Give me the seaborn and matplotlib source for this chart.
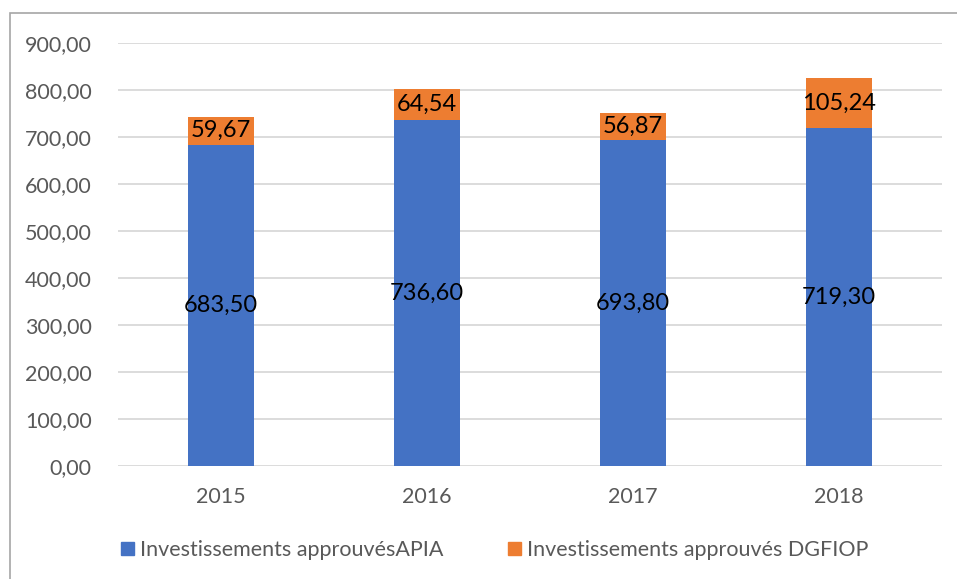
import matplotlib.pyplot as plt
import seaborn as sns
import pandas as pd
from matplotlib.patches import Patch, Rectangle

# Data
years = ['2015', '2016', '2017', '2018']
apia = [683.50, 736.60, 693.80, 719.30]
dgfiop = [59.67, 64.54, 56.87, 105.24]
yticks = [0, 100, 200, 300, 400, 500, 600, 700, 800, 900]

blue = '#4472C4'
orange = '#ED7D31'
grey = '#595959'

df = pd.DataFrame({'year': years, 'apia': apia, 'dgfiop': dgfiop})
df['total'] = df['apia'] + df['dgfiop']

sns.set_theme(style='white')
plt.rcParams['font.family'] = ['Lato', 'DejaVu Sans']

fig = plt.figure(figsize=(9.57, 5.79), dpi=100)
ax = fig.add_axes([0.1233, 0.1952, 0.861, 0.7305])

# stacked bars: total in orange, APIA over it in blue
sns.barplot(data=df, x='year', y='total', color=orange, width=0.32,
            saturation=1, linewidth=0, ax=ax, zorder=3)
sns.barplot(data=df, x='year', y='apia', color=blue, width=0.32,
            saturation=1, linewidth=0, ax=ax, zorder=3)

def fmt(v):
    return f'{v:.2f}'.replace('.', ',')

for i, row in df.iterrows():
    ax.text(i, row['apia'] / 2, fmt(row['apia']), ha='center', va='center',
            fontsize=17, color='black', zorder=4)
    ax.text(i, row['apia'] + row['dgfiop'] / 2, fmt(row['dgfiop']),
            ha='center', va='center', fontsize=17, color='black', zorder=4)

ax.set_ylim(0, 900)
ax.set_xlim(-0.5, 3.5)
ax.set_yticks(yticks)
ax.set_yticklabels([fmt(v) for v in yticks])
ax.yaxis.grid(True, color='#d9d9d9', lw=1.3, zorder=0)
ax.set_axisbelow(True)
ax.tick_params(axis='both', labelsize=15.5, labelcolor=grey, length=0)
ax.tick_params(axis='y', pad=19)
ax.tick_params(axis='x', pad=15)
ax.set_xlabel('')
ax.set_ylabel('')
sns.despine(ax=ax, left=True, bottom=True)

handles = [Patch(color=blue, label='Investissements approuvésAPIA'),
           Patch(color=orange, label='Investissements approuvés DGFIOP')]
fig.legend(handles=handles, loc='center', bbox_to_anchor=(0.517, 0.05), ncol=2,
           frameon=False, fontsize=15.5, labelcolor=grey, handlelength=0.6,
           handleheight=0.6, handletextpad=0.3, columnspacing=3.0)

# chart border
fig.patches.append(Rectangle((10 / 957, -0.1), 1.2, 1.1 - 13 / 579,
                             transform=fig.transFigure, fill=False,
                             edgecolor='#a6a6a6', lw=1.2))

fig.savefig('out.png', dpi=100)
